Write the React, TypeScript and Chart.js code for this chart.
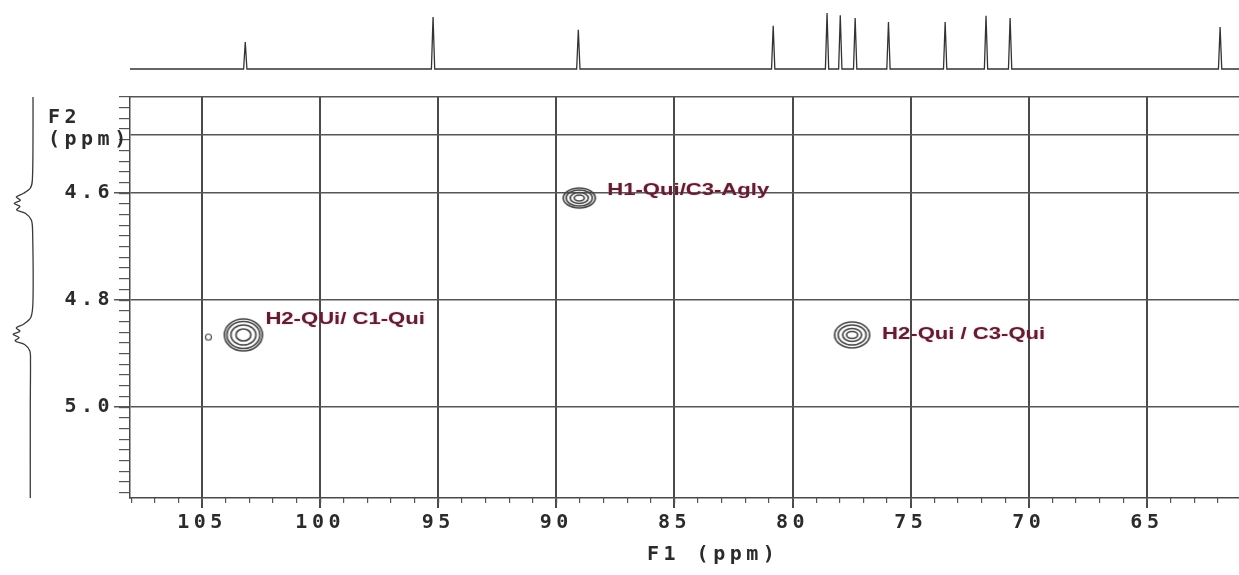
import React, { useEffect, useRef } from "react";
import { Chart, registerables } from "chart.js";

Chart.register(...registerables);

// ---- axis ranges (ppm) ----
const F1_MIN = 61.1;
const F1_MAX = 108.05;
const F2_MIN = 4.42;
const F2_MAX = 5.17;

// ---- tick labels ----
const f1TickLabels = [105, 100, 95, 90, 85, 80, 75, 70, 65];
const f2TickLabels = [4.6, 4.8, 5.0];
const f2GridLines = [4.49, 4.6, 4.8, 5.0];

// ---- 1D 13C projection (top trace) ----
const carbonShifts = [103.17, 95.22, 89.07, 80.82, 78.54, 77.98, 77.35, 75.94, 73.54, 71.81, 70.79, 61.9];
const carbonHeights = [0.48, 0.93, 0.7, 0.77, 1.0, 0.96, 0.91, 0.84, 0.84, 0.95, 0.91, 0.75];

// ---- 1D 1H projection (left trace) ----
const protonShifts = [4.42, 4.5, 4.575, 4.59, 4.6, 4.607, 4.613, 4.619, 4.625, 4.631, 4.638, 4.65, 4.67, 4.8, 4.832, 4.845, 4.852, 4.858, 4.864, 4.87, 4.876, 4.883, 4.895, 4.915, 5.0, 5.17];
const protonIntensity = [0, 0, 0.03, 0.12, 0.45, 0.8, 0.6, 0.9, 0.62, 0.78, 0.35, 0.08, 0.02, 0.0, 0.1, 0.45, 0.8, 0.62, 0.95, 0.66, 0.85, 0.4, 0.15, 0.12, 0.13, 0.13];

// ---- HMBC cross peaks ----
const crossF1 = [103.25, 104.73, 89.03, 77.48];
const crossF2 = [4.865, 4.869, 4.609, 4.865];
const crossLabels = ["H2-QUi/ C1-Qui", "", "H1-Qui/C3-Agly", "H2-Qui / C3-Qui"];

// ---- styles ----
const GRID = "#4a4a4a";
const TEXT = "#2b2b2b";
const LABEL = "#5e1f33";
const TICK_FONT = { family: "'DejaVu Sans Mono', monospace", size: 20, weight: "bold" as const };
const SPACING = "4.5px";
const contourRings = [
  [[19, 16], [16.5, 13.5], [12.5, 10], [7.5, 6]],
  [[3, 3]],
  [[16, 10], [13, 8], [9, 5.5], [5, 3]],
  [[17.5, 13], [14, 10], [9.5, 6.5], [5.5, 3.5]],
];
const labelOffsets = [[22, -15], [0, 0], [28, -7], [30, 0]];

function makeContour(rings: number[][], lw: number, color: string) {
  const maxRx = Math.max(...rings.map((r) => r[0]));
  const maxRy = Math.max(...rings.map((r) => r[1]));
  const c = document.createElement("canvas");
  c.width = Math.ceil(maxRx * 2 + lw * 2 + 2);
  c.height = Math.ceil(maxRy * 2 + lw * 2 + 2);
  const g = c.getContext("2d")!;
  g.strokeStyle = color;
  g.lineWidth = lw;
  rings.forEach(([rx, ry]) => {
    g.beginPath();
    g.ellipse(c.width / 2, c.height / 2, rx, ry, 0, 0, Math.PI * 2);
    g.stroke();
  });
  return c;
}

const fixH = (h: number) => (s: any) => {
  s.height = h;
  s.paddingLeft = 0;
  s.paddingRight = 0;
};
const fixV = (w: number) => (s: any) => {
  s.width = w;
  s.paddingTop = 0;
  s.paddingBottom = 0;
};

const textPlugin = {
  id: "nmrText",
  beforeUpdate(chart: any) {
    chart.ctx.letterSpacing = SPACING;
  },
  beforeDraw(chart: any) {
    chart.ctx.letterSpacing = SPACING;
  },
  afterDraw(chart: any) {
    const ctx = chart.ctx;
    const { left, top, bottom } = chart.chartArea;
    ctx.save();
    ctx.letterSpacing = SPACING;
    ctx.font = "bold 20px 'DejaVu Sans Mono', monospace";
    ctx.fillStyle = TEXT;
    ctx.textBaseline = "middle";
    ctx.textAlign = "left";
    ctx.fillText("F2", left - 82, top + 21);
    ctx.fillText("(ppm)", left - 82, top + 43);
    ctx.fillText("F1 (ppm)", left + 517, bottom + 57);
    ctx.restore();

    const xs = chart.scales.x;
    const ys = chart.scales.y;
    crossLabels.forEach((t, i) => {
      if (!t) return;
      const px = xs.getPixelForValue(crossF1[i]) + labelOffsets[i][0];
      const py = ys.getPixelForValue(crossF2[i]) + labelOffsets[i][1];
      ctx.save();
      ctx.letterSpacing = "0px";
      ctx.font = "bold 16px 'Liberation Sans', Arial, sans-serif";
      ctx.fillStyle = LABEL;
      ctx.shadowColor = "rgba(220,120,140,0.55)";
      ctx.shadowBlur = 2;
      ctx.textBaseline = "middle";
      ctx.textAlign = "left";
      ctx.translate(px, py);
      ctx.scale(1.38, 1);
      ctx.fillText(t, 0, 0);
      ctx.restore();
    });
  },
};

export default function App() {
  const ref = useRef<HTMLCanvasElement | null>(null);

  useEffect(() => {
    const canvas = ref.current;
    if (!canvas) return;

    const contourImgs = contourRings.map((r, i) => makeContour(r, i === 1 ? 1.1 : 1.7, "#454545"));

    const crossPoints = crossF1.map((x, i) => ({ x, y: crossF2[i] }));

    const carbonTrace: { x: number; y: number }[] = [{ x: F1_MAX, y: 0 }];
    carbonShifts.forEach((s, i) => {
      carbonTrace.push({ x: s + 0.07, y: 0 }, { x: s, y: carbonHeights[i] }, { x: s - 0.07, y: 0 });
    });
    carbonTrace.push({ x: F1_MIN, y: 0 });

    const protonTrace = protonShifts.map((s, i) => ({ x: protonIntensity[i], y: s }));

    const chart = new Chart(canvas, {
      type: "scatter",
      data: {
        datasets: [
          {
            type: "scatter",
            data: crossPoints,
            xAxisID: "x",
            yAxisID: "y",
            pointStyle: contourImgs as any,
            pointRadius: 10,
            pointHoverRadius: 10,
          } as any,
          {
            type: "line",
            data: carbonTrace,
            xAxisID: "x",
            yAxisID: "yS",
            borderColor: "#333333",
            borderWidth: 1.3,
            pointRadius: 0,
            tension: 0,
            clip: false,
          } as any,
          {
            type: "line",
            data: protonTrace,
            xAxisID: "xP",
            yAxisID: "y",
            borderColor: "#3a3a3a",
            borderWidth: 1.3,
            pointRadius: 0,
            tension: 0.3,
            clip: false,
          } as any,
        ],
      },
      options: {
        animation: false,
        responsive: false,
        events: [],
        layout: { autoPadding: false, padding: { top: 97, left: 0, right: 0, bottom: 0 } },
        plugins: { legend: { display: false }, tooltip: { enabled: false } },
        scales: {
          x: {
            type: "linear",
            position: "bottom",
            reverse: true,
            min: F1_MIN,
            max: F1_MAX,
            weight: 1,
            afterBuildTicks: (s: any) => {
              s.ticks = f1TickLabels.map((v) => ({ value: v }));
            },
            afterFit: fixH(77),
            ticks: {
              autoSkip: false,
              maxRotation: 0,
              color: TEXT,
              font: TICK_FONT,
              padding: 3,
              callback: (v: any) => String(v),
            },
            grid: { color: GRID, lineWidth: 2, tickLength: 10, tickColor: GRID },
            border: { display: true, color: GRID, width: 1.5 },
          },
          xMinor: {
            type: "linear",
            position: "bottom",
            reverse: true,
            min: F1_MIN,
            max: F1_MAX,
            weight: 0,
            afterFit: fixH(0),
            ticks: { display: false, stepSize: 1, includeBounds: false },
            grid: { drawOnChartArea: false, tickLength: 5, color: "#555555", lineWidth: 1.2 },
            border: { display: false },
          },
          xTop: {
            type: "linear",
            position: "top",
            reverse: true,
            min: F1_MIN,
            max: F1_MAX,
            afterFit: fixH(0),
            ticks: { display: false },
            grid: { drawOnChartArea: false, drawTicks: false },
            border: { display: true, color: "#555555", width: 1.5 },
          },
          xP: { type: "linear", display: false, reverse: true, min: -57.43, max: -4.619 },
          y: {
            type: "linear",
            position: "left",
            reverse: true,
            min: F2_MIN,
            max: F2_MAX,
            weight: 1,
            afterBuildTicks: (s: any) => {
              s.ticks = f2GridLines.map((v) => ({ value: v }));
            },
            afterFit: fixV(130),
            ticks: {
              autoSkip: false,
              color: TEXT,
              font: TICK_FONT,
              padding: 0,
              callback: (v: any) => (f2TickLabels.includes(v) ? Number(v).toFixed(1) : ""),
            },
            grid: {
              color: "#555555",
              lineWidth: 1.5,
              tickLength: 16,
              tickColor: (c: any) => (c.tick && f2TickLabels.includes(c.tick.value) ? "#555555" : "rgba(0,0,0,0)"),
            },
            border: { display: true, color: GRID, width: 1.5 },
          },
          yMinor: {
            type: "linear",
            position: "left",
            reverse: true,
            min: F2_MIN,
            max: F2_MAX,
            weight: 0,
            afterFit: fixV(0),
            ticks: { display: false, stepSize: 0.02, includeBounds: false },
            grid: { drawOnChartArea: false, tickLength: 11, color: "#555555", lineWidth: 1.2 },
            border: { display: false },
          },
          yS: { type: "linear", display: false, min: -7.661, max: -0.5 },
        } as any,
      },
      plugins: [textPlugin as any],
    });

    return () => chart.destroy();
  }, []);

  return (
    <div style={{ position: "fixed", left: 0, top: 0, width: 1239, height: 575, background: "#ffffff" }}>
      <canvas ref={ref} width={1239} height={575} style={{ display: "block" }} />
    </div>
  );
}
